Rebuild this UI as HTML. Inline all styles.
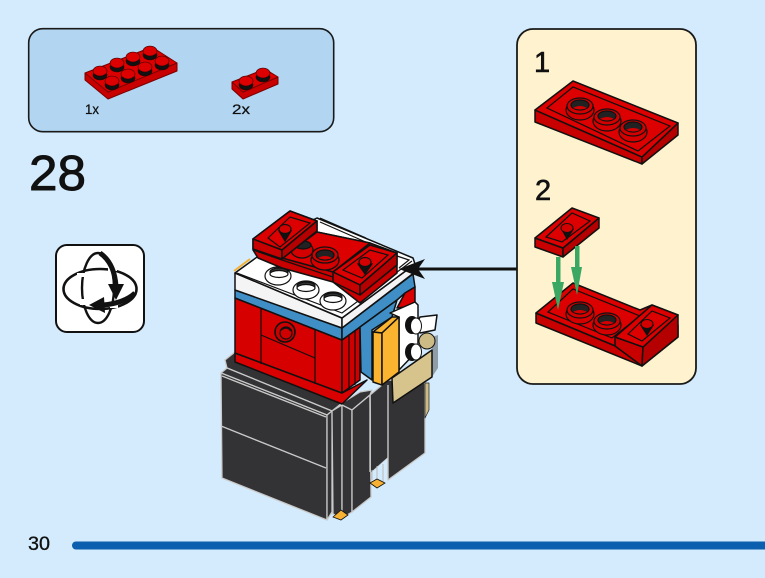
<!DOCTYPE html>
<html><head><meta charset="utf-8"><style>
html,body{margin:0;padding:0;background:#d3ebfc}
svg{display:block}
text{font-family:"Liberation Sans",sans-serif;fill:#111}
.k{stroke:#111;stroke-width:1.5;stroke-linejoin:round}
.r{fill:#dc0000}.d{fill:#c80000}.m{fill:#b40000}
.l{fill:none;stroke:#111;stroke-width:1.2}
.g{fill:none;stroke:#c8c8c8;stroke-width:1.4}
.dk{fill:#333335}
</style></head><body>
<svg width="765" height="578" viewBox="0 0 765 578" xmlns="http://www.w3.org/2000/svg">
<rect width="765" height="578" fill="#d3ebfc"/>
<!-- parts panel -->
<rect x="28.7" y="28.7" width="305" height="103" rx="14" fill="#b2d6f2" stroke="#1a1a1a" stroke-width="1.6"/>
<g stroke="#7a0000" stroke-width="1" stroke-linejoin="round">
<polygon class="d" points="85,73 108,92 177,63 177,71 108,99 85,80"/>
<polygon class="r" points="85,73 152,47 177,63 108,92"/>
</g>
<g stroke="#300" stroke-width=".6">
<ellipse cx="100" cy="75" rx="7" ry="5" fill="#111"/><ellipse cx="100" cy="71" rx="7" ry="5" fill="#dd0000"/>
<ellipse cx="117" cy="67" rx="7" ry="5" fill="#111"/><ellipse cx="117" cy="63" rx="7" ry="5" fill="#dd0000"/>
<ellipse cx="133" cy="61" rx="7" ry="5" fill="#111"/><ellipse cx="133" cy="57" rx="7" ry="5" fill="#dd0000"/>
<ellipse cx="150" cy="55" rx="7" ry="5" fill="#111"/><ellipse cx="150" cy="51" rx="7" ry="5" fill="#dd0000"/>
<ellipse cx="112" cy="85" rx="7" ry="5" fill="#111"/><ellipse cx="112" cy="81" rx="7" ry="5" fill="#dd0000"/>
<ellipse cx="128" cy="78" rx="7" ry="5" fill="#111"/><ellipse cx="128" cy="74" rx="7" ry="5" fill="#dd0000"/>
<ellipse cx="145" cy="71" rx="7" ry="5" fill="#111"/><ellipse cx="145" cy="67" rx="7" ry="5" fill="#dd0000"/>
<ellipse cx="162" cy="65" rx="7" ry="5" fill="#111"/><ellipse cx="162" cy="61" rx="7" ry="5" fill="#dd0000"/>
</g>
<g stroke="#7a0000" stroke-width="1" stroke-linejoin="round">
<polygon class="d" points="232,82 243,92 278,77 278,84 243,99 232,89"/>
<polygon class="r" points="232,82 265,69 278,77 243,92"/>
</g>
<g stroke="#300" stroke-width=".6">
<ellipse cx="246" cy="85" rx="7" ry="5" fill="#111"/><ellipse cx="246" cy="81" rx="7" ry="5" fill="#dd0000"/>
<ellipse cx="263" cy="77" rx="7" ry="5" fill="#111"/><ellipse cx="263" cy="73" rx="7" ry="5" fill="#dd0000"/>
</g>
<text x="85" y="114" font-size="14" textLength="14" lengthAdjust="spacingAndGlyphs" stroke="#111" stroke-width=".25">1x</text>
<text x="232" y="114" font-size="14" textLength="18" lengthAdjust="spacingAndGlyphs" stroke="#111" stroke-width=".25">2x</text>
<text x="29" y="190" font-size="49" textLength="57" lengthAdjust="spacingAndGlyphs" stroke="#111" stroke-width=".9">28</text>
<!-- rotate icon -->
<rect x="56" y="245" width="88" height="87" rx="11" fill="#fff" stroke="#111" stroke-width="2"/>
<ellipse cx="100" cy="289" rx="36.5" ry="20" fill="none" stroke="#111" stroke-width="2.6"/>
<ellipse cx="98" cy="288" rx="16" ry="35" fill="none" stroke="#111" stroke-width="2.4"/>
<g fill="#fff">
<rect x="77" y="273" width="9" height="4"/>
<rect x="80" y="299" width="8" height="6"/>
<rect x="110" y="302" width="8" height="6"/>
<rect x="108" y="266" width="9" height="5"/>
</g>
<path d="M100,253 C110,260 115,272 116,286" fill="none" stroke="#111" stroke-width="5"/>
<polygon points="108,284 124,284 116,300" fill="#111"/>
<path d="M135,293 C128,300 116,304 103,305" fill="none" stroke="#111" stroke-width="5"/>
<polygon points="104,297 105,313 89,305" fill="#111"/>
<!-- main model: base -->
<g stroke="#c9c9c9" stroke-width="1.3" stroke-linejoin="round">
<polygon class="dk" points="370,395 388,380 425,383 425,453 388,480 388,457 371,472"/>
<polygon points="425,383 429,383 429,410 425,418" fill="#cdbb86" stroke="#222" stroke-width=".7"/>
<polygon class="dk" points="225,360 235,352 342,403 332,411 227,368"/>
<polygon class="dk" points="342,403 360,392 372,390 370,395 352,410 342,412"/>
<polygon class="dk" points="221,373 227,368 332,411 327,415"/>
<polygon class="dk" points="221,373 327,415 327,520 222,478"/>
<polygon class="dk" points="327,415 332,411 332,512 327,520"/>
<polygon class="dk" points="332,411 342,405 342,518 333,514"/>
<polygon class="dk" points="342,405 352,410 352,512 342,518"/>
<polygon class="dk" points="352,410 370,395 371,497 352,512"/>
</g>
<path class="dk" d="M371,398 L388,384 L424,384 L424,452 L388,478 L388,457 L371,472 Z"/>
<path class="g" d="M221,426 L326,468 M222,376 L326,417 M388,385 L388,478 M370,395 L370,472"/>
<g stroke="#bbb" stroke-width="1"><path d="M372,470 V480 M377,466 V480 M383,464 V482" fill="none"/></g>
<polygon points="370,483 377,479 385,483 377,488" fill="#f7b133" stroke="#111" stroke-width=".8"/>
<polygon points="333,517 341,510 348,515 341,520" fill="#f7b133" stroke="#111" stroke-width=".8"/>
<!-- red body -->
<g class="k">
<polygon points="235,353 342,393 367,380 342,404 235,362" fill="#d80000"/>
<polygon points="235,298 342,340 342,393 235,353" fill="#d60000"/>
<polygon points="342,340 360,327 360,380 342,393" fill="#d00000"/>
</g>
<path class="l" d="M261,309 V364 M315,330 V384 M261,335 L315,358 M349,336 V390 M355,331 V385" stroke-width="1.4"/>
<ellipse cx="285" cy="332" rx="10" ry="10" fill="#c80000" stroke="#111" stroke-width="1.6"/>
<ellipse cx="286" cy="333" rx="6" ry="6" fill="#d00000" stroke="#111" stroke-width="1.2"/>
<path d="M281,330 A6,6 0 0 1 291,331" fill="none" stroke="#111" stroke-width="2"/>
<!-- blue -->
<g class="k">
<polygon points="235,290 342,328 342,340 235,298" fill="#3f8fc6"/>
<polygon points="342,328 413,274 415,287 405,293 397,300 360,327 342,340" fill="#3f8fc6"/>
<polygon points="360,327 397,300 392,317 372,330 372,380 361,372" fill="#3f8fc6"/>
<polygon points="405,293 415,287 415,306 397,308" fill="#d80000"/>
</g>
<!-- gold & white bricks -->
<g class="k">
<polygon points="390,313 415,302 418,305 418,350 399,370 399,317" fill="#fff"/>
<polygon points="420,317 437,315 435,330 420,333 416,325" fill="#fff"/>
</g>
<ellipse cx="412" cy="325" rx="7" ry="9" fill="#111"/><ellipse cx="416" cy="326" rx="5.5" ry="8" fill="#fff" stroke="#111"/>
<ellipse cx="412" cy="352" rx="7" ry="9" fill="#111"/><ellipse cx="416" cy="352" rx="5.5" ry="8" fill="#fff" stroke="#111"/>
<polygon points="432,337 438,335 438,368 432,377" fill="#8f9ea6"/>
<ellipse cx="427" cy="341" rx="8" ry="8" fill="#cdbb86" stroke="#111"/>
<g class="k">
<polygon points="373,332 392,317 399,317 382,333" fill="#fbb430"/>
<polygon points="373,332 382,333 382,385 373,382" fill="#fbb430"/>
<polygon points="382,333 399,317 399,372 382,385" fill="#fbb430"/>
<polygon points="392,378 432,350 432,377 393,403" fill="#d6c48c"/>
</g>
<!-- white top -->
<g class="k">
<polygon points="235,273 342,318 342,328 235,290" fill="#f4f4f4"/>
<polygon points="342,318 415,264 415,272 342,328" fill="#f4f4f4"/>
<polygon points="235,273 300,226 317,218 413,258 415,264 342,318" fill="#fff"/>
</g>
<path class="l" d="M237,273 L342,313 L412,261 M320,222 L368,243 M320,218 L366,238 M397,256 L409,260 L399,268"/>
<path d="M234,271 L250,259" stroke="#f7b133" stroke-width="2"/>
<g stroke="#111" stroke-width="1.2" fill="#fff">
<ellipse cx="278" cy="276" rx="13" ry="9"/><ellipse cx="279" cy="272" rx="9" ry="4" fill="#333"/><ellipse cx="279" cy="274" rx="9" ry="3.5"/>
<ellipse cx="306" cy="290" rx="13" ry="9"/><ellipse cx="306" cy="286" rx="9" ry="4" fill="#333"/><ellipse cx="306" cy="288" rx="9" ry="3.5"/>
<ellipse cx="333" cy="301" rx="13" ry="9"/><ellipse cx="333" cy="297" rx="9" ry="4" fill="#333"/><ellipse cx="333" cy="299" rx="9" ry="3.5"/>
</g>
<!-- red top -->
<polygon class="k d" points="253,239 290,211 317,221 317,232 370,243 397,253 397,273 360,303 333,282 282,268 258,258 253,250"/>
<path class="l" d="M253,250 L282,260 L333,277 L360,293 L397,262" stroke-width="1.3"/>
<polygon class="k r" points="282,258 317,232 370,243 333,272"/>
<g stroke="#111" stroke-width="1.3">
<ellipse cx="302" cy="250" rx="11" ry="8" fill="#d40000"/><ellipse cx="303" cy="245" rx="8" ry="4" fill="#222"/>
<ellipse cx="325" cy="260" rx="14" ry="10" fill="#d40000"/><ellipse cx="325" cy="255" rx="13" ry="8" fill="#d40000"/><ellipse cx="325" cy="255" rx="9" ry="5" fill="#222"/><path d="M318,258 Q325,254 332,258 Q325,261 318,258Z" fill="#d40000" stroke="none"/>
</g>
<g class="k">
<polygon class="r" points="333,272 370,245 397,253 360,285"/>
<polygon class="d" points="333,272 360,285 360,295 333,282"/>
<polygon class="m" points="360,285 397,253 397,265 360,295"/>
<polygon class="r" points="253,239 290,211 317,221 282,250"/>
<polygon class="d" points="253,239 282,250 282,259 253,249"/>
<polygon class="m" points="282,250 317,221 317,231 282,259"/>
</g>
<path class="l" d="M268,238 L290,217 L310,223 L280,247 Z M343,270 L370,250 L388,255 L362,278 Z"/>
<g stroke="#111" stroke-width="1.2">
<polygon points="279,231 291,231 285,241" fill="#111"/><ellipse cx="285" cy="229" rx="6" ry="4.5" fill="#d40000"/>
<polygon points="358,264 372,264 365,274" fill="#111"/><ellipse cx="365" cy="262" rx="6" ry="4.5" fill="#d40000"/>
</g>
<!-- arrow -->
<rect x="418" y="267.5" width="100" height="3" fill="#111"/>
<polygon points="399,269 425,259 418,269 425,279" fill="#111"/>
<!-- callout -->
<rect x="517" y="29" width="179" height="355" rx="16" fill="#fef3ce" stroke="#1a1a1a" stroke-width="1.8"/>
<text x="534" y="72" font-size="29" stroke="#111" stroke-width=".6">1</text>
<text x="535" y="200" font-size="29" stroke="#111" stroke-width=".6">2</text>
<g class="k">
<polygon class="d" points="535,110 642,157 642,164 535,122"/>
<polygon class="m" points="642,157 678,123 678,135 642,164"/>
<polygon class="r" points="535,110 573,81 678,123 642,157"/>
</g>
<path class="l" d="M547,108 L573,87 L670,126 L638,151 Z" stroke-width="1.1"/>
<g stroke="#111" stroke-width="1.2">
<ellipse cx="580" cy="110" rx="14" ry="10" fill="#d40000"/><ellipse cx="580" cy="106" rx="13" ry="8" fill="#d40000"/><ellipse cx="580" cy="105" rx="9" ry="5" fill="#222"/><path d="M573,108 Q580,104 587,108 Q580,111 573,108Z" fill="#d40000" stroke="none"/>
<ellipse cx="607" cy="121" rx="14" ry="10" fill="#d40000"/><ellipse cx="607" cy="117" rx="13" ry="8" fill="#d40000"/><ellipse cx="607" cy="116" rx="9" ry="5" fill="#222"/><path d="M600,119 Q607,115 614,119 Q607,122 600,119Z" fill="#d40000" stroke="none"/>
<ellipse cx="633" cy="132" rx="14" ry="10" fill="#d40000"/><ellipse cx="633" cy="128" rx="13" ry="8" fill="#d40000"/><ellipse cx="633" cy="127" rx="9" ry="5" fill="#222"/><path d="M626,130 Q633,126 640,130 Q633,133 626,130Z" fill="#d40000" stroke="none"/>
</g>
<!-- step 2 lower -->
<g class="k">
<polygon class="d" points="536,313 642,357 642,366 536,323"/>
<polygon class="m" points="642,357 678,325 678,337 642,366"/>
<polygon class="r" points="536,313 573,283 640,310 652,305 678,315 642,357"/>
</g>
<path class="l" d="M548,312 L573,289 L640,316 L612,338 Z" stroke-width="1.1"/>
<g stroke="#111" stroke-width="1.2">
<ellipse cx="580" cy="314" rx="14" ry="10" fill="#d40000"/><ellipse cx="580" cy="310" rx="13" ry="8" fill="#d40000"/><ellipse cx="580" cy="309" rx="9" ry="5" fill="#222"/><path d="M573,312 Q580,308 587,312 Q580,315 573,312Z" fill="#d40000" stroke="none"/>
<ellipse cx="607" cy="325" rx="14" ry="10" fill="#d40000"/><ellipse cx="607" cy="321" rx="13" ry="8" fill="#d40000"/><ellipse cx="607" cy="320" rx="9" ry="5" fill="#222"/><path d="M600,323 Q607,319 614,323 Q607,326 600,323Z" fill="#d40000" stroke="none"/>
</g>
<g class="k">
<polygon class="d" points="615,337 643,347 642,366 615,346"/>
<polygon class="m" points="643,347 678,315 678,337 642,366"/>
<polygon class="r" points="615,337 652,305 678,315 643,347"/>
</g>
<path class="l" d="M628,334 L652,311 L670,318 L642,341 Z" stroke-width="1.1"/>
<polygon points="640,325 654,325 647,336" fill="#111"/>
<ellipse cx="647" cy="324" rx="6" ry="4.5" fill="#d40000" stroke="#111"/>
<!-- step 2 small -->
<g class="k">
<polygon class="d" points="535,238 563,248 563,257 535,247"/>
<polygon class="m" points="563,248 599,218 599,228 563,257"/>
<polygon class="r" points="535,238 572,208 599,218 563,248"/>
</g>
<path class="l" d="M546,237 L572,213 L590,221 L562,242 Z" stroke-width="1.1"/>
<polygon points="561,229 574,229 567,240" fill="#111"/>
<ellipse cx="567" cy="228" rx="6" ry="4.5" fill="#d40000" stroke="#111"/>
<!-- green arrows -->
<g fill="#3aa862">
<rect x="556" y="257" width="4.5" height="26"/>
<polygon points="552,282 564,282 558,310"/>
<rect x="575" y="246" width="4.5" height="26"/>
<polygon points="571,267 582,267 577,295"/>
</g>
<!-- footer -->
<text x="28" y="550" font-size="19" textLength="22" lengthAdjust="spacingAndGlyphs" stroke="#111" stroke-width=".3">30</text>
<path d="M76,545.5 H765" stroke="#0a5fae" stroke-width="8" stroke-linecap="round"/>
</svg>
</body></html>
